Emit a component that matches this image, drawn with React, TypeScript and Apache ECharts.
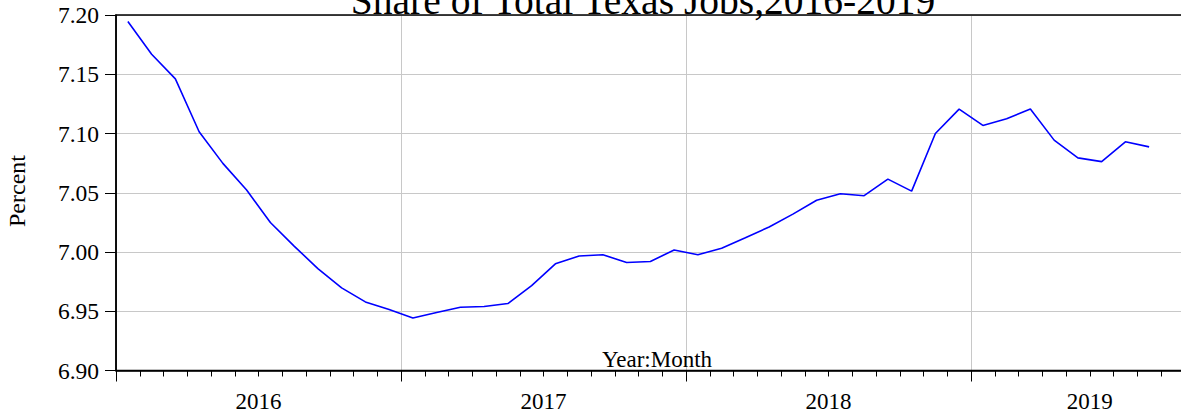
import React, { useEffect, useRef } from "react";
import * as echarts from "echarts";

const MONTHS: string[] = [
  "2016-01", "2016-02", "2016-03", "2016-04", "2016-05", "2016-06", "2016-07", "2016-08", "2016-09", "2016-10", "2016-11", "2016-12",
  "2017-01", "2017-02", "2017-03", "2017-04", "2017-05", "2017-06", "2017-07", "2017-08", "2017-09", "2017-10", "2017-11", "2017-12",
  "2018-01", "2018-02", "2018-03", "2018-04", "2018-05", "2018-06", "2018-07", "2018-08", "2018-09", "2018-10", "2018-11", "2018-12",
  "2019-01", "2019-02", "2019-03", "2019-04", "2019-05", "2019-06", "2019-07", "2019-08",
];

const SHARE: number[] = [
  7.1945, 7.1669, 7.1461, 7.1015, 7.0748, 7.0523, 7.0249, 7.005, 6.986, 6.9697, 6.9579, 6.9514,
  6.9443, 6.9489, 6.9534, 6.954, 6.9565, 6.9716, 6.99, 6.9966, 6.9977, 6.9912, 6.992, 7.0017,
  6.9977, 7.0031, 7.012, 7.0211, 7.032, 7.0437, 7.0492, 7.0475, 7.0615, 7.0514, 7.1, 7.1206,
  7.1068, 7.1124, 7.1206, 7.0944, 7.0794, 7.0763, 7.093, 7.0887,
];

const YEARS: string[] = ["2016", "2017", "2018", "2019"];
const AXIS_END_MONTH = 46; // axis runs to Nov 2019 (beyond visible area)

const TITLE = "Share of Total Texas Jobs,2016-2019";
const Y_NAME = "Percent";
const X_NAME = "Year:Month";

const FONT = "'Liberation Serif', 'Times New Roman', serif";

function monthIndex(m: string): number {
  const [y, mo] = m.split("-").map(Number);
  return (y - 2016) * 12 + (mo - 1);
}

export default function App() {
  const ref = useRef<HTMLDivElement>(null);

  useEffect(() => {
    if (!ref.current) return;
    const chart = echarts.init(ref.current, undefined, { renderer: "svg" });
    const data = MONTHS.map((m, i) => [monthIndex(m) + 0.5, SHARE[i]]);
    const yearCenters = YEARS.map((_, i) => {
      const s = i * 12;
      const e = Math.min(s + 12, AXIS_END_MONTH);
      return (s + e) / 2;
    });
    const monthW = 285 / 12;

    chart.setOption({
      animation: false,
      backgroundColor: "#ffffff",
      grid: {
        left: 116,
        top: 15,
        width: monthW * 48,
        height: 355.5,
        show: true,
        borderColor: "#000",
        borderWidth: 1.5,
        backgroundColor: "transparent",
        containLabel: false,
        outerBoundsMode: "none",
        z: 3,
      },
      xAxis: [
        {
          type: "value",
          min: 0,
          max: 48,
          interval: 12,
          axisLine: { show: true, lineStyle: { color: "#000", width: 1.5 } },
          axisTick: { show: true, length: 11, lineStyle: { color: "#000", width: 1 } },
          minorTick: { show: true, splitNumber: 12, length: 6, lineStyle: { color: "#000", width: 1 } },
          axisLabel: { show: false },
          splitLine: { show: true, lineStyle: { color: "#c8c8c8", width: 1 } },
          minorSplitLine: { show: false },
        },
        {
          type: "value",
          min: 0,
          max: 48,
          position: "bottom",
          axisLine: { show: false },
          axisTick: { show: false },
          splitLine: { show: false },
          axisLabel: {
            show: true,
            customValues: yearCenters,
            formatter: (v: number) => {
              const idx = yearCenters.findIndex((c) => Math.abs(c - v) < 0.01);
              return idx >= 0 ? YEARS[idx] : "";
            },
            margin: 31,
            verticalAlign: "middle",
            fontFamily: FONT,
            fontSize: 23,
            color: "#000",
          },
        },
      ],
      yAxis: {
        type: "value",
        min: 6.9,
        max: 7.2,
        interval: 0.05,
        axisLine: { show: true, lineStyle: { color: "#000", width: 1.5 } },
        axisTick: { show: true, length: 11, lineStyle: { color: "#000", width: 1 } },
        axisLabel: {
          formatter: (v: number) => v.toFixed(2),
          margin: 17,
          fontFamily: FONT,
          fontSize: 23.5,
          color: "#000",
        },
        splitLine: { show: true, lineStyle: { color: "#c8c8c8", width: 1 } },
      },
      series: [
        {
          type: "line",
          xAxisIndex: 0,
          data,
          showSymbol: false,
          symbol: "none",
          lineStyle: { color: "#0000ff", width: 1.6 },
          itemStyle: { color: "#0000ff" },
          z: 5,
        },
      ],
      graphic: [
        {
          type: "text",
          x: 643,
          y: 0.5,
          z: 10,
          style: {
            text: TITLE,
            font: `39.5px ${FONT}`,
            fill: "#000",
            textAlign: "center",
            textVerticalAlign: "middle",
          },
        },
        {
          type: "text",
          x: 17,
          y: 191,
          rotation: Math.PI / 2,
          style: {
            text: Y_NAME,
            font: `24px ${FONT}`,
            fill: "#000",
            textAlign: "center",
            textVerticalAlign: "middle",
          },
        },
        {
          type: "text",
          x: 657,
          y: 359,
          z: 10,
          style: {
            text: X_NAME,
            font: `23px ${FONT}`,
            fill: "#000",
            textAlign: "center",
            textVerticalAlign: "middle",
          },
        },
      ],
    });

    return () => {
      chart.dispose();
    };
  }, []);

  return (
    <div
      ref={ref}
      style={{ position: "fixed", left: 0, top: 0, width: 1181, height: 415, background: "#fff", overflow: "hidden" }}
    />
  );
}
